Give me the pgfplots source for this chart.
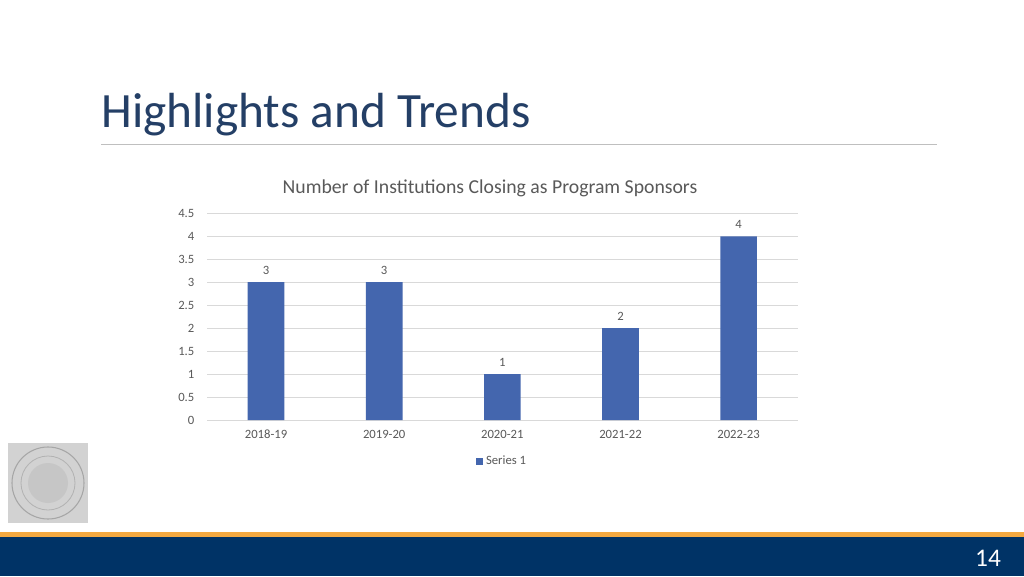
\documentclass[border=0pt]{standalone}
\usepackage{fontspec}
\setmainfont{Carlito}
\usepackage{pgfplots}
\pgfplotsset{compat=1.18}
\definecolor{navy}{HTML}{003366}
\definecolor{accent}{HTML}{F4A940}
\definecolor{titleblue}{HTML}{243F66}
\definecolor{rulegray}{HTML}{BFBFBF}
\definecolor{gridgray}{HTML}{D9D9D9}
\definecolor{textgray}{HTML}{595959}
\definecolor{barblue}{HTML}{4466AE}
\definecolor{sealgray}{HTML}{D2D2D2}

\pgfplotstableread{
idx value
0 3
1 3
2 1
3 2
4 4
}\closings

\begin{document}
\begin{tikzpicture}[x=0.75pt,y=0.75pt]
\useasboundingbox (0,0) rectangle (1024,576);
\fill[white] (0,0) rectangle (1024,576);

% slide title and rule
\node[anchor=base west, inner sep=0, text=titleblue,
      font=\fontsize{37}{44}\selectfont] at (101,448) {Highlights and Trends};
\draw[rulegray, line width=0.75pt] (101,431) -- (937,431);

% chart title
\node[text=textgray, font=\fontsize{14.8}{17}\selectfont] at (490,388)
  {Number of Institutions Closing as Program Sponsors};

\coordinate (plotorigin) at (207,156);
\begin{axis}[
    at={(plotorigin)}, anchor=south west,
    scale only axis,
    width=443pt, height=155pt,
    xmin=-0.5, xmax=4.5,
    ymin=0, ymax=4.5,
    xtick={0,1,2,3,4},
    xticklabels={2018-19,2019-20,2020-21,2021-22,2022-23},
    ytick={0,0.5,1,1.5,2,2.5,3,3.5,4,4.5},
    ymajorgrids,
    grid style={gridgray, line width=0.75pt},
    axis line style={draw=none},
    major tick length=0pt,
    tick label style={font=\fontsize{9.5}{11}\selectfont, text=textgray},
    /pgf/number format/assume math mode=true,
    yticklabel style={/pgf/number format/fixed, xshift=-6pt},
    xticklabel style={yshift=-4pt},
    ybar, bar width=27.5pt,
    nodes near coords,
    nodes near coords style={font=\fontsize{9.5}{11}\selectfont, text=textgray, yshift=2pt},
    legend style={at={(0.5,-0.2)}, anchor=center, draw=none, fill=none,
                  font=\fontsize{9.5}{11}\selectfont, text=textgray},
    legend image code/.code={\fill[barblue] (0pt,-2.8pt) rectangle (5.6pt,2.8pt);},
]
\addplot[fill=barblue, draw=none] table[x=idx, y=value] {\closings};
\addlegendentry{Series 1}
\end{axis}

% seal
\fill[sealgray] (8,53) rectangle (88,133);
\draw[gray!70, line width=0.8pt] (48,93) circle (36);
\draw[gray!60, line width=0.6pt] (48,93) circle (27);
\fill[gray!45] (48,93) circle (20);

% footer
\fill[accent] (0,39) rectangle (1024,44);
\fill[navy] (0,0) rectangle (1024,39);
\node[text=white, font=\fontsize{19}{22}\selectfont] at (988,18) {14};
\end{tikzpicture}
\end{document}
